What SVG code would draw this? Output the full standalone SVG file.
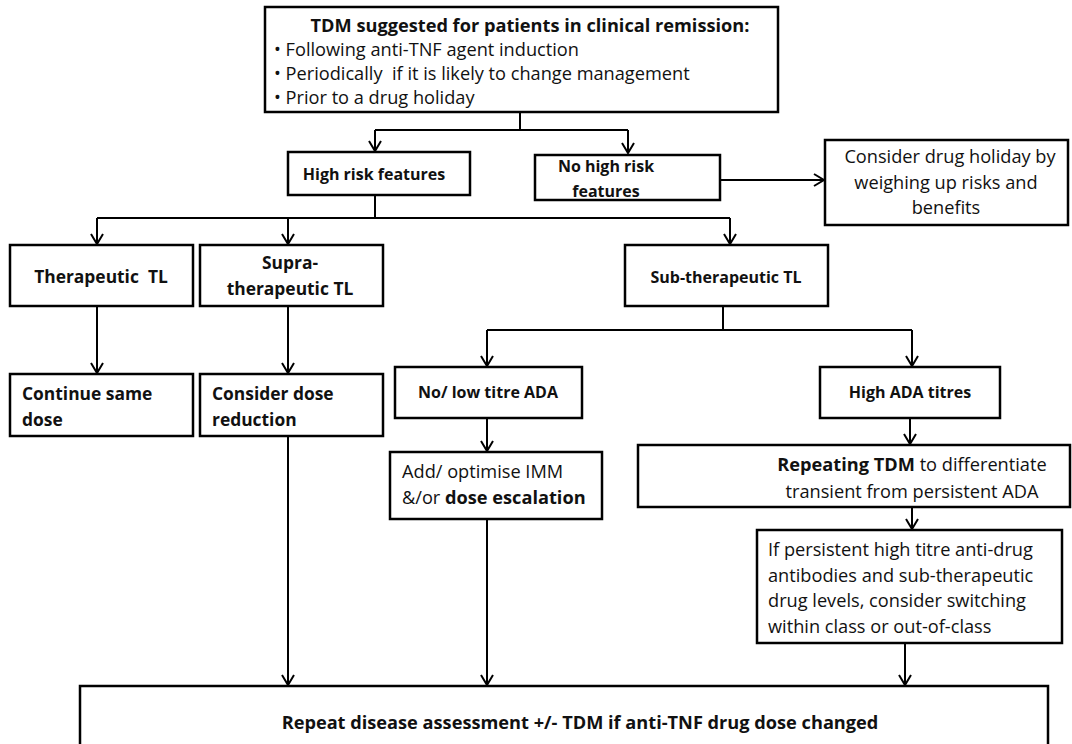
<svg xmlns="http://www.w3.org/2000/svg" width="1072" height="744" viewBox="0 0 1072 744">
<style>
.box{fill:#fff;stroke:#000;stroke-width:2.5}
.t{font-family:"Open Sans","Liberation Sans",sans-serif;font-size:16px;fill:#111}
.r{font-size:18.2px}
.m{font-size:17.4px}
.b{font-weight:bold}
.c{text-anchor:middle}
.ln{fill:none;stroke:#000;stroke-width:2}
</style>
<defs>
<marker id="ah" viewBox="0 0 14 14" refX="12" refY="7" markerWidth="14" markerHeight="14" markerUnits="userSpaceOnUse" orient="auto">
<path d="M2,1 L12,7 L2,13" fill="none" stroke="#000" stroke-width="2"/>
</marker>
</defs>
<rect width="1072" height="744" fill="#fff"/>
<g id="connectors">
<path class="ln" d="M520,112 V130 M375,130 H628"/>
<path class="ln" d="M375,130 V151" marker-end="url(#ah)"/>
<path class="ln" d="M628,130 V153" marker-end="url(#ah)"/>
<path class="ln" d="M720,180 H824" marker-end="url(#ah)"/>
<path class="ln" d="M375,195 V218 M97,218 H730"/>
<path class="ln" d="M97,218 V244" marker-end="url(#ah)"/>
<path class="ln" d="M288,218 V244" marker-end="url(#ah)"/>
<path class="ln" d="M730,218 V244" marker-end="url(#ah)"/>
<path class="ln" d="M97,306 V373" marker-end="url(#ah)"/>
<path class="ln" d="M288,306 V373" marker-end="url(#ah)"/>
<path class="ln" d="M723,306 V330 M487,330 H912"/>
<path class="ln" d="M487,330 V366" marker-end="url(#ah)"/>
<path class="ln" d="M912,330 V366" marker-end="url(#ah)"/>
<path class="ln" d="M487,418 V451" marker-end="url(#ah)"/>
<path class="ln" d="M910,418 V444" marker-end="url(#ah)"/>
<path class="ln" d="M912,507 V529" marker-end="url(#ah)"/>
<path class="ln" d="M905,643 V685" marker-end="url(#ah)"/>
<path class="ln" d="M288,436 V685" marker-end="url(#ah)"/>
<path class="ln" d="M487,519 V685" marker-end="url(#ah)"/>
</g>
<g id="n_top">
<rect class="box" x="265" y="7" width="513" height="105"/>
<text class="t r b c" x="530" y="32">TDM suggested for patients in clinical remission:</text>
<text class="t r" x="274" y="56">• Following anti-TNF agent induction</text>
<text class="t r" x="274" y="80" xml:space="preserve">• Periodically  if it is likely to change management</text>
<text class="t r" x="274" y="104">• Prior to a drug holiday</text>
</g>
<g id="n_high">
<rect class="box" x="288" y="152" width="182" height="43"/>
<text class="t b c" x="374" y="180">High risk features</text>
</g>
<g id="n_nohigh">
<rect class="box" x="535" y="155" width="185" height="45"/>
<text class="t b c" x="606" y="172">No high risk</text>
<text class="t b c" x="606" y="197">features</text>
</g>
<g id="n_holiday">
<rect class="box" x="825" y="140" width="243" height="85"/>
<text class="t r c" x="950" y="163">Consider drug holiday by</text>
<text class="t r c" x="946" y="189">weighing up risks and</text>
<text class="t r c" x="946" y="214">benefits</text>
</g>
<g id="n_ther">
<rect class="box" x="10" y="245" width="183" height="61"/>
<text class="t b c m" x="101" y="283" xml:space="preserve">Therapeutic  TL</text>
</g>
<g id="n_supra">
<rect class="box" x="200" y="245" width="183" height="61"/>
<text class="t b c m" x="290" y="269">Supra-</text>
<text class="t b c m" x="290" y="295">therapeutic TL</text>
</g>
<g id="n_sub">
<rect class="box" x="625" y="245" width="203" height="61"/>
<text class="t b c" x="726" y="283">Sub-therapeutic TL</text>
</g>
<g id="n_cont">
<rect class="box" x="10" y="374" width="183" height="62"/>
<text class="t b m" x="22" y="400">Continue same</text>
<text class="t b m" x="22" y="426">dose</text>
</g>
<g id="n_reduce">
<rect class="box" x="200" y="374" width="183" height="62"/>
<text class="t b m" x="212" y="400">Consider dose</text>
<text class="t b m" x="212" y="426">reduction</text>
</g>
<g id="n_low">
<rect class="box" x="395" y="367" width="187" height="51"/>
<text class="t b c" x="488" y="398">No/ low titre ADA</text>
</g>
<g id="n_highada">
<rect class="box" x="820" y="367" width="180" height="51"/>
<text class="t b c" x="910" y="398">High ADA titres</text>
</g>
<g id="n_imm">
<rect class="box" x="390" y="452" width="212" height="67"/>
<text class="t r" x="402" y="478">Add/ optimise IMM</text>
<text class="t r" x="402" y="504">&amp;/or <tspan class="b">dose escalation</tspan></text>
</g>
<g id="n_repeat">
<rect class="box" x="638" y="445" width="432" height="62"/>
<text class="t r c" x="912" y="471"><tspan class="b">Repeating TDM</tspan> to differentiate</text>
<text class="t r c" x="912" y="498">transient from persistent ADA</text>
</g>
<g id="n_switch">
<rect class="box" x="757" y="530" width="305" height="113"/>
<text class="t r" x="768" y="556">If persistent high titre anti-drug</text>
<text class="t r" x="768" y="582">antibodies and sub-therapeutic</text>
<text class="t r" x="768" y="607">drug levels, consider switching</text>
<text class="t r" x="768" y="633">within class or out-of-class</text>
</g>
<g id="n_bottom">
<rect class="box" x="80" y="686" width="968" height="70"/>
<text class="t r b c" x="580" y="729">Repeat disease assessment +/- TDM if anti-TNF drug dose changed</text>
</g>
</svg>
